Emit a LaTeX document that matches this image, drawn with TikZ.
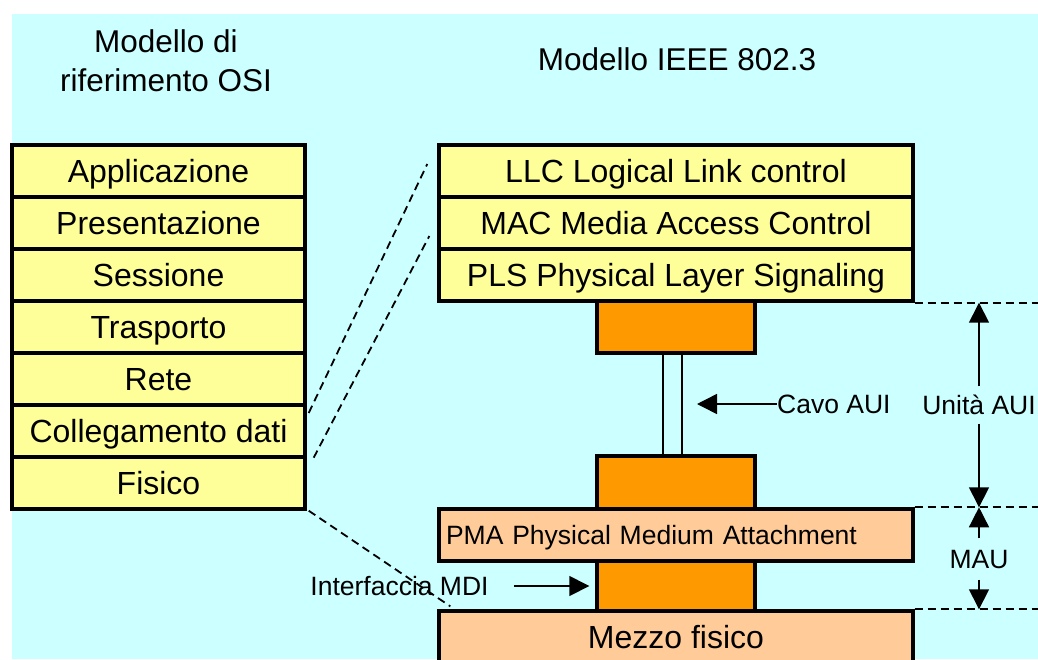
\documentclass[tikz,border=0pt]{standalone}
\usepackage{fontspec}
\setmainfont{Liberation Sans}
\usetikzlibrary{arrows.meta,calc}
\definecolor{bgcyan}{HTML}{CCFFFF}
\definecolor{layeryellow}{HTML}{FFFF99}
\definecolor{portorange}{HTML}{FF9900}
\definecolor{mediumpeach}{HTML}{FFCC99}
\begin{document}
\begin{tikzpicture}[x=1pt,y=-1pt,
  bigtext/.style={font=\fontsize{32}{38}\selectfont, text height=28pt, text depth=5pt},
  smalltext/.style={font=\fontsize{26.5}{32}\selectfont, text height=23pt, text depth=4pt},
  titletext/.style={font=\fontsize{31.5}{39.4}\selectfont},
  box/.style={draw, line width=3.4pt, inner sep=0pt, rectangle},
  osilayer/.style={box, bigtext, fill=layeryellow, minimum width=293pt, minimum height=52pt},
  ieeelayer/.style={box, bigtext, fill=layeryellow, minimum width=474pt, minimum height=52pt},
  port/.style={box, fill=portorange, minimum width=158pt},
  guide/.style={dash pattern=on 8pt off 5pt, line width=1.8pt},
  pointer/.style={line width=1.5pt, -{Triangle[length=20pt,width=20pt]}},
  wire/.style={line width=1.8pt},
]
\useasboundingbox (0,0) rectangle (1038,659);
\clip (0,0) rectangle (1038,659);
\fill[white] (0,0) rectangle (1038,659);
\fill[bgcyan] (12,14) rectangle (1038,659);

% titles
\node[titletext, align=center, anchor=base] (osititle) at (166,91.7) {Modello di\\riferimento OSI};
\node[titletext, anchor=base] (ieeetitle) at (677,70.7) {Modello IEEE 802.3};

% OSI reference stack
\node[osilayer] (app)  at (158.5,171) {Applicazione};
\node[osilayer] (pres) at (158.5,223) {Presentazione};
\node[osilayer] (sess) at (158.5,275) {Sessione};
\node[osilayer] (tras) at (158.5,327) {Trasporto};
\node[osilayer] (rete) at (158.5,379) {Rete};
\node[osilayer] (coll) at (158.5,431) {Collegamento dati};
\node[osilayer] (fis)  at (158.5,483) {Fisico};

% AUI / MDI connectors
\node[port, minimum height=52pt] (auiup)   at (676,327) {};
\node[port, minimum height=53pt] (auidown) at (676,482.5) {};
\node[port, minimum height=50pt] (mdi)     at (676,586) {};

% IEEE 802.3 stack
\node[ieeelayer] (llc) at (676,171) {LLC Logical Link control};
\node[ieeelayer] (mac) at (676,223) {MAC Media Access Control};
\node[ieeelayer] (pls) at (676,275) {PLS Physical Layer Signaling};
\node[box, smalltext, fill=mediumpeach, minimum height=52pt, text width=460pt,
      inner xsep=7pt, align=left] (pma) at (676,535) {PMA Physical Medium Attachment};
\node[ieeelayer, fill=mediumpeach] (mezzo) at (676,637) {Mezzo fisico};

% AUI cable
\draw[wire] ($(auiup.south)+(-13,0)$) -- ($(auidown.north)+(-13,0)$);
\draw[wire] ($(auiup.south)+(6,0)$) -- ($(auidown.north)+(6,0)$);

% layer correspondence
\draw[guide] ($(coll.east)+(2,-18)$) -- ($(llc.west)+(-10,-7)$);
\draw[guide] ($(coll.south east)+(7,-1)$) -- ($(mac.west)+(-8,13)$);
\draw[guide] ($(fis.south east)+(2,0)$) -- ($(mezzo.north west)+(13,-3)$);

% unit boundaries
\draw[guide] (pls.south east) -- ++(140,0);
\draw[guide] (pma.north east) -- ++(140,0);
\draw[guide] (mezzo.north east) -- ++(140,0);

% dimension labels
\node[smalltext, inner xsep=0pt, inner ysep=5pt] (unit) at (979,405) {Unità AUI};
\draw[pointer] (unit.north) -- (unit.north |- pls.south);
\draw[pointer] (unit.south) -- (unit.south |- pma.north);

\node[smalltext, inner xsep=0pt, inner ysep=7pt] (mau) at (979,559) {MAU};
\draw[pointer] (mau.north) -- (mau.north |- pma.north);
\draw[pointer] (mau.south) -- (mau.south |- mezzo.north);

\node[smalltext, inner sep=0pt, anchor=west] (cavo) at (777,404) {Cavo AUI};
\draw[pointer] (cavo.west) -- ++(-80,0);

\node[smalltext, inner sep=0pt] (mdilabel) at (399.5,586) {Interfaccia MDI};
\draw[pointer] ($(mdilabel.east)+(25,0)$) -- ($(mdi.west)+(-6,0)$);
\end{tikzpicture}
\end{document}
